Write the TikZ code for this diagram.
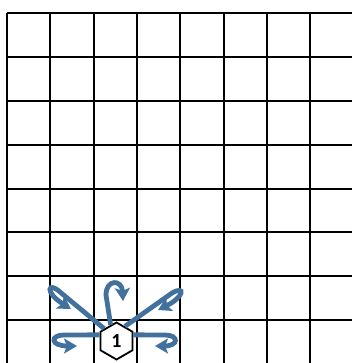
\documentclass[tikz,border=0pt]{standalone}
\usepackage{fontspec}
\setmainfont{Carlito}
\usepackage{tikz}
\usetikzlibrary{arrows.meta,shapes.geometric}
\definecolor{moveblue}{RGB}{65,113,156}
\tikzstyle{gridline} = [line width=2pt, black]
\tikzstyle{hexa} = [regular polygon, regular polygon sides=6, shape border rotate=30, minimum size=37pt, inner sep=0pt, draw=black, line width=1.8pt, fill=white, font=\fontsize{20}{20}\selectfont\bfseries]
\tikzstyle{move} = [line width=4.8pt, moveblue, -{Stealth[length=13pt,width=15pt,inset=3pt]}]

\begin{document}
\begin{tikzpicture}[x=1pt,y=-1pt]
\useasboundingbox (0,0) rectangle (352,363);
% board
\foreach \i in {0,...,7} {
  \draw [gridline] (7+43.3*\i,13.3) -- (7+43.3*\i,363);
  \draw [gridline] (7,13.3+43.8*\i) -- (352,13.3+43.8*\i);
}
% piece
\node (P1) [hexa] at (116.5,341) {1};
% arrow ends
\coordinate (UL) at (71,309);
\coordinate (UP) at (123,301);
\coordinate (UR) at (158,310);
\coordinate (LT) at (77,346);
\coordinate (RT) at (155,346);
\draw [move] (P1.135) -- (60,292) .. controls (48,281) and (44,292) .. (UL);
\draw [move] (P1.110) -- (106,295) .. controls (106,279) and (122,279) .. (UP);
\draw [move] (P1.60) -- (172,293) .. controls (186,285) and (184,297) .. (UR);
\draw [move] (P1.160) -- (64,335) .. controls (50,335) and (50,346) .. (LT);
\draw [move] (P1.20) -- (165,335) .. controls (179,335) and (179,346) .. (RT);
\end{tikzpicture}
\end{document}
